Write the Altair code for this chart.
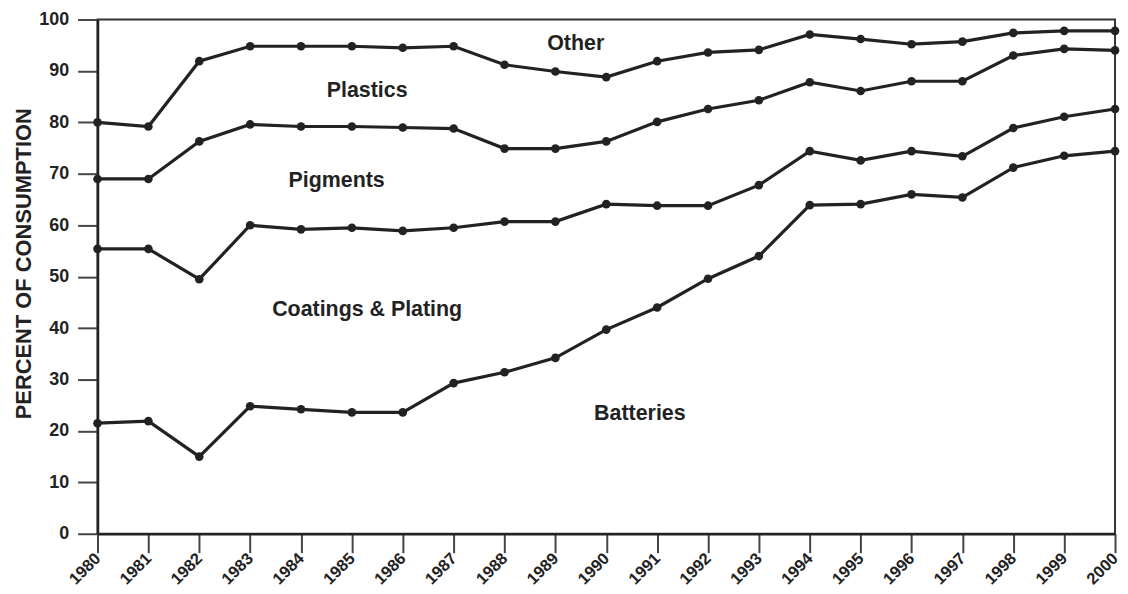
import altair as alt
import pandas as pd

years = list(range(1980, 2001))

# cumulative boundaries (percent of consumption)
batteries = [21.5, 21.9, 15.0, 24.8, 24.2, 23.6, 23.6, 29.3, 31.4, 34.2, 39.7,
             44.0, 49.6, 54.0, 63.9, 64.1, 66.0, 65.4, 71.2, 73.5, 74.4]
coatings = [55.4, 55.4, 49.5, 60.0, 59.2, 59.5, 58.9, 59.5, 60.7, 60.7, 64.1,
            63.8, 63.8, 67.8, 74.4, 72.6, 74.4, 73.4, 78.9, 81.1, 82.6]
pigments = [69.0, 69.0, 76.3, 79.6, 79.2, 79.2, 79.0, 78.8, 74.9, 74.9, 76.3,
            80.1, 82.6, 84.3, 87.8, 86.1, 88.0, 88.0, 93.0, 94.3, 94.0]
plastics = [80.0, 79.2, 91.9, 94.8, 94.8, 94.8, 94.5, 94.8, 91.2, 89.9, 88.8,
            91.9, 93.6, 94.1, 97.1, 96.2, 95.2, 95.7, 97.4, 97.8, 97.8]

series = {"Batteries": batteries, "Coatings & Plating": coatings,
          "Pigments": pigments, "Plastics": plastics}

label_text = ["Other", "Plastics", "Pigments", "Coatings & Plating", "Batteries"]
label_year = [1989.4, 1985.3, 1984.7, 1985.3, 1990.66]
label_value = [95.3, 86.0, 68.5, 43.5, 23.2]

y_ticks = list(range(0, 101, 10))

rows = []
for name, vals in series.items():
    for yr, v in zip(years, vals):
        rows.append({"series": name, "year": yr, "value": v})
df = pd.DataFrame(rows)
labels = pd.DataFrame({"label": label_text, "year": label_year, "value": label_value})

FONT = "Liberation Sans"
INK = "#222222"
TICK = "#444444"
W, H = 1023, 517

xscale = alt.Scale(domain=[1980, 2000], nice=False, zero=False)
yscale = alt.Scale(domain=[0, 100], nice=False)

x_enc = alt.X(
    "year:Q", scale=xscale,
    axis=alt.Axis(
        values=years, format="d", title=None, grid=False,
        ticks=True, tickSize=19, tickColor=TICK, tickWidth=2,
        labelAngle=315, labelAlign="right", labelBaseline="middle",
        labelPadding=3, labelFont=FONT, labelFontSize=16.5,
        labelFontWeight="bold", labelColor=INK, labelOverlap=False,
        labelFlush=False, domainColor=INK, domainWidth=2.5,
    ),
)
y_enc = alt.Y(
    "value:Q", scale=yscale,
    axis=alt.Axis(
        values=y_ticks, title="PERCENT OF CONSUMPTION", grid=False,
        ticks=True, tickSize=20, tickColor=TICK, tickWidth=2,
        labelPadding=9, labelFont=FONT, labelFontSize=18,
        labelFontWeight="bold", labelColor=INK, labelOverlap=False,
        labelFlush=False, domainColor=INK, domainWidth=2.5,
        titleFont=FONT, titleFontSize=22, titleFontWeight="bold",
        titleColor=INK, titleAngle=270, titleBaseline="middle",
        titleAlign="center", titleX=-74, titleY=245,
    ),
)

lines = alt.Chart(df).mark_line(color=INK, strokeWidth=3.2).encode(
    x=x_enc, y=y_enc, detail="series:N"
)
points = alt.Chart(df).mark_circle(color=INK, size=75, opacity=1).encode(
    x=x_enc, y=y_enc, detail="series:N"
)
texts = alt.Chart(labels).mark_text(
    font=FONT, fontSize=21.5, fontWeight="bold", color=INK,
    align="center", baseline="middle"
).encode(x=x_enc, y=y_enc, text="label:N")

chart = alt.layer(lines, points, texts).properties(
    width=W, height=H, background="white",
    autosize=alt.AutoSizeParams(type="none"),
    padding={"left": 90, "top": 10, "right": 5, "bottom": 62},
).configure_view(stroke="#333333", strokeWidth=2)

chart.save("out.html", embed_options={"renderer": "svg", "actions": False})
